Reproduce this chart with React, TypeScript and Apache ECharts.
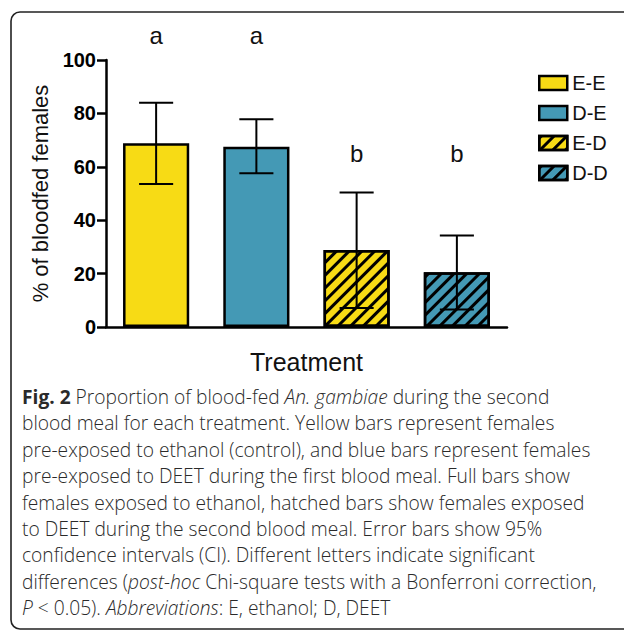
import React, { useEffect, useRef } from "react";
import * as echarts from "echarts";

const categories = ["E-E", "D-E", "E-D", "D-D"];
const seriesNames = ["E-E", "D-E", "E-D", "D-D"];
const meanValues = [68.8, 67.5, 28.8, 20.5];
const ciLow = [53.6, 57.6, 7.1, 6.6];
const ciHigh = [84.0, 77.8, 50.4, 34.3];
const letters = ["a", "a", "b", "b"];
const letterPos = [109, 109, 65, 65];
const hatched = [false, false, true, true];
const yTicks = [0, 20, 40, 60, 80, 100];

const YELLOW = "#F7DB15";
const BLUE = "#4499B5";
const barColors = [YELLOW, BLUE, YELLOW, BLUE];

const captionLines = [
  "{b|Fig. 2}{n| Proportion of blood-fed }{i|An. gambiae}{n| during the second}",
  "{n|blood meal for each treatment. Yellow bars represent females}",
  "{n|pre-exposed to ethanol (control), and blue bars represent females}",
  "{n|pre-exposed to DEET during the first blood meal. Full bars show}",
  "{n|females exposed to ethanol, hatched bars show females exposed}",
  "{n|to DEET during the second blood meal. Error bars show 95%}",
  "{n|confidence intervals (CI). Different letters indicate significant}",
  "{n|differences (}{i|post-hoc}{n| Chi-square tests with a Bonferroni correction,}",
  "{i|P}{n| < 0.05). }{i|Abbreviations}{n|: E, ethanol; D, DEET}",
];

const hatchDecal = {
  symbol: "rect",
  symbolSize: 1,
  dashArrayX: [1, 0],
  dashArrayY: [2.2, 5.6],
  rotation: -Math.PI / 4,
  color: "#000",
};

export default function App() {
  const ref = useRef<HTMLDivElement>(null);
  useEffect(() => {
    if (!ref.current) return;
    const chart = echarts.init(ref.current, null, { renderer: "svg" });
    const capFont = "'Open Sans', 'Noto Sans', sans-serif";
    const capSize = 19.2;
    const capColor = "#2a2a2a";
    const rich = {
      n: { fontFamily: capFont, fontSize: capSize, fontWeight: 300, color: capColor },
      b: { fontFamily: capFont, fontSize: capSize, fontWeight: "bold", color: capColor },
      i: { fontFamily: capFont, fontSize: capSize, fontWeight: 300, fontStyle: "italic", color: capColor },
    };
    const barSeries = seriesNames.map((name, si) => ({
      name,
      type: "bar",
      barWidth: "66%",
      barGap: "-100%",
      z: 2,
      itemStyle: {
        color: barColors[si],
        borderColor: "#000",
        borderWidth: 2.5,
        decal: hatched[si] ? hatchDecal : undefined,
      },
      data: categories.map((_, ci) => (ci === si ? meanValues[ci] : "-")),
    }));
    const option: any = {
      animation: false,
      aria: { enabled: false },
      grid: { left: 106, top: 60, width: 401, height: 267 },
      legend: {
        data: seriesNames,
        orient: "vertical",
        left: 533,
        top: 68,
        itemWidth: 28,
        itemHeight: 14,
        itemGap: 10,
        icon: "rect",
        itemStyle: { borderColor: "#000", borderWidth: 2.5 },
        textStyle: {
          fontFamily: "'Liberation Sans', Arial, sans-serif",
          fontSize: 20,
          lineHeight: 20,
          color: "#111",
          padding: [0, 0, 0, 0],
        },
      },
      xAxis: {
        type: "category",
        data: categories,
        name: "Treatment",
        nameLocation: "middle",
        nameGap: 22,
        nameTextStyle: {
          fontFamily: "'Liberation Sans', Arial, sans-serif",
          fontSize: 25,
          color: "#111",
        },
        axisLine: { lineStyle: { color: "#000", width: 2.5 } },
        axisTick: {
          alignWithLabel: true,
          length: 9,
          lineStyle: { color: "#000", width: 2.5 },
        },
        axisLabel: { show: false },
      },
      yAxis: {
        type: "value",
        min: 0,
        max: 100,
        interval: 20,
        name: "% of bloodfed females",
        nameLocation: "middle",
        nameGap: 47,
        nameTextStyle: {
          fontFamily: "'Liberation Sans', Arial, sans-serif",
          fontSize: 22,
          color: "#111",
        },
        splitLine: { show: false },
        axisLine: { show: true, lineStyle: { color: "#000", width: 2.5 } },
        axisTick: { show: true, length: 9, lineStyle: { color: "#000", width: 2.5 } },
        axisLabel: {
          margin: 10,
          fontFamily: "'Liberation Sans Narrow', 'Liberation Sans', Arial, sans-serif",
          fontWeight: "bold",
          fontSize: 20,
          color: "#000",
          formatter: (v: number) => (yTicks.includes(v) ? String(v) : ""),
        },
      },
      series: [
        ...barSeries,
        {
          name: "ci",
          type: "custom",
          z: 5,
          data: categories.map((_, i) => [i, ciLow[i], ciHigh[i]]),
          encode: { x: 0, y: [1, 2] },
          renderItem: (params: any, api: any) => {
            const x = api.value(0);
            const lo = api.coord([x, api.value(1)]);
            const hi = api.coord([x, api.value(2)]);
            const half = api.size([1, 0])[0] * 0.17;
            const st = { stroke: "#000", lineWidth: 2 };
            return {
              type: "group",
              children: [
                { type: "line", shape: { x1: lo[0], y1: lo[1], x2: hi[0], y2: hi[1] }, style: st },
                { type: "line", shape: { x1: lo[0] - half, y1: lo[1], x2: lo[0] + half, y2: lo[1] }, style: st },
                { type: "line", shape: { x1: hi[0] - half, y1: hi[1], x2: hi[0] + half, y2: hi[1] }, style: st },
              ],
            };
          },
        },
        {
          name: "letters",
          type: "custom",
          z: 6,
          clip: false,
          data: categories.map((_, i) => [i, letterPos[i]]),
          renderItem: (params: any, api: any) => {
            const p = api.coord([api.value(0), api.value(1)]);
            return {
              type: "text",
              x: p[0],
              y: p[1],
              style: {
                text: letters[params.dataIndex],
                fontFamily: "'Liberation Sans', Arial, sans-serif",
                fontSize: 24,
                fill: "#111",
                align: "center",
                verticalAlign: "middle",
              },
            };
          },
        },
      ],
      graphic: [
        {
          type: "rect",
          shape: { x: 11, y: 12, width: 660, height: 617, r: 9 },
          style: { fill: "none", stroke: "#222", lineWidth: 1.6 },
          silent: true,
        },
        ...captionLines.map((line, i) => ({
          type: "text",
          left: 22,
          top: 387 + i * 26.4,
          style: {
            text: line,
            rich,
            fill: capColor,
          },
        })),
      ],
    };
    chart.setOption(option);
    return () => chart.dispose();
  }, []);
  return (
    <div
      ref={ref}
      style={{ position: "absolute", left: 0, top: 0, width: 624, height: 630 }}
    />
  );
}
